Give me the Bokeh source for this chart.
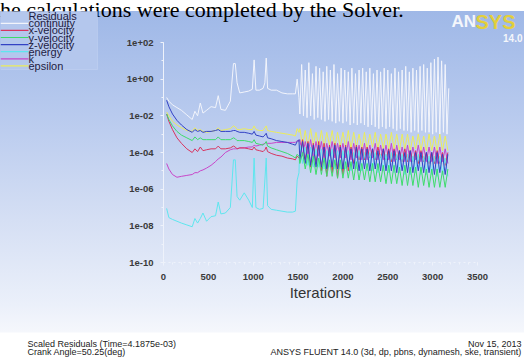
import numpy as np
from bokeh.plotting import figure
from bokeh.models import Label, BoxAnnotation, FixedTicker, CustomJSTickFormatter, Range1d
from bokeh.embed import file_html
from bokeh.resources import INLINE

W, H = 524, 362

# ---------------- data (log10 of scaled residuals) ----------------
iters_a = [35, 60, 100, 150, 200, 260, 320, 350, 380, 410,
           440, 480, 530, 580, 610, 640, 690, 745, 780, 800,
           820, 850, 900, 950, 990, 1010, 1030, 1070, 1110, 1130,
           1145, 1160, 1200, 1260, 1320, 1380, 1440, 1470, 1490, 1510]
iters_b = list(range(1520, 3190, 30))   # band residuals, sampled every 30 iterations
iters_c = list(range(1520, 3190, 20))   # continuity, sampled every 20 iterations

continuity_a = [-1.0, -1.2, -1.4, -1.55, -1.7, -1.95, -2.2, -1.75, -2.0, -1.3,
                -1.85, -1.7, -1.5, -1.55, -0.9, -1.65, -1.7, -1.2, 0.85, 0.85,
                -0.2, -0.75, -0.7, -0.65, -0.55, 1.05, -0.6, -0.6, -0.5, -0.2,
                1.15, -0.5, -0.6, -0.6, -0.75, -0.8, -0.8, -0.8, 0.0, -1.0]
continuity_b = [-1.9, 0.8, -2.0, 0.5, -2.1, 0.9, -2.0, 0.3, -2.2, 0.7, -2.1, 0.6,
                -2.2, 0.4, -2.3, 0.7, -2.2, 0.5, -2.3, 0.8, -2.4, 0.3, -2.3, 0.6,
                -2.4, 0.5, -2.3, 0.4, -2.5, 0.6, -2.4, 0.3, -2.5, 0.5, -2.4, 0.6,
                -2.5, 0.4, -2.6, 0.6, -2.5, 0.3, -2.6, 0.5, -2.7, 0.4, -2.6, 0.6,
                -2.7, 0.5, -2.6, 0.3, -2.7, 0.6, -2.8, 0.4, -2.7, 0.5, -2.8, 0.7,
                -2.8, 0.4, -2.9, 0.6, -2.8, 0.5, -2.9, 0.7, -2.8, 0.8, -2.9, 0.6,
                -2.9, 0.9, -3.0, 1.1, -2.9, 1.2, -3.0, 1.0, -2.9, 0.8, -3.0, -0.5]

xvel_a = [-1.9, -2.3, -2.75, -3.2, -3.5, -3.8, -4.0, -3.8, -3.95, -3.7,
          -3.9, -3.85, -3.8, -3.8, -3.65, -3.8, -3.8, -3.75, -3.65, -3.7,
          -3.8, -3.75, -3.75, -3.8, -3.85, -3.7, -3.85, -3.9, -3.95, -3.85,
          -3.7, -3.95, -4.05, -4.15, -4.2, -4.3, -4.35, -4.4, -4.2, -4.3]
xvel_b = [-4.2, -3.3, -4.4, -3.4, -4.8, -3.5, -4.6, -3.4,
          -5.0, -3.5, -5.3, -3.6, -5.1, -3.5, -5.4, -3.6,
          -5.2, -3.6, -5.0, -3.7, -4.6, -3.6, -4.4, -3.7,
          -4.4, -3.7, -4.3, -3.8, -4.4, -3.7, -4.3, -3.8,
          -4.4, -3.8, -4.5, -3.8, -4.4, -3.9, -4.5, -3.8,
          -4.5, -3.9, -4.5, -3.9, -4.6, -3.9, -4.5, -4.0,
          -4.6, -4.0, -4.6, -3.9, -4.6, -4.0, -4.7, -4.0]

yvel_a = [-1.9, -2.2, -2.55, -2.85, -3.05, -3.2, -3.35, -3.15, -3.3, -3.2,
          -3.3, -3.3, -3.3, -3.3, -3.15, -3.3, -3.3, -3.3, -3.2, -3.25,
          -3.35, -3.35, -3.35, -3.4, -3.45, -3.3, -3.5, -3.55, -3.6, -3.5,
          -3.4, -3.65, -3.75, -3.85, -3.95, -4.05, -4.2, -4.3, -4.1, -4.2]
yvel_b = [-4.6, -4.0, -4.9, -4.1, -5.1, -4.2, -5.2, -4.3,
          -5.2, -4.3, -5.3, -4.4, -5.3, -4.4, -5.4, -4.4,
          -5.4, -4.5, -5.4, -4.5, -5.5, -4.5, -5.5, -4.6,
          -5.5, -4.6, -5.6, -4.6, -5.6, -4.6, -5.6, -4.7,
          -5.7, -4.7, -5.7, -4.7, -5.7, -4.8, -5.8, -4.7,
          -5.8, -4.8, -5.8, -4.8, -5.9, -4.8, -5.8, -4.9,
          -5.9, -4.9, -5.9, -4.9, -5.9, -5.0, -5.9, -4.9]

zvel_a = [-1.15, -1.5, -1.9, -2.25, -2.5, -2.75, -2.9, -2.75, -2.85, -2.8,
          -2.9, -2.85, -2.85, -2.8, -2.75, -2.85, -2.85, -2.85, -2.8, -2.8,
          -2.85, -2.9, -2.9, -2.95, -3.0, -2.85, -3.05, -3.1, -3.15, -3.05,
          -2.95, -3.2, -3.25, -3.35, -3.4, -3.45, -3.55, -3.6, -3.4, -3.3]
zvel_b = [-4.4, -3.4, -4.6, -3.5, -4.7, -3.6, -4.8, -3.6,
          -4.8, -3.7, -4.9, -3.7, -4.8, -3.6, -4.9, -3.7,
          -4.9, -3.7, -4.8, -3.8, -4.9, -3.7, -5.0, -3.8,
          -4.9, -3.8, -5.0, -3.8, -4.9, -3.9, -5.0, -3.8,
          -5.0, -3.9, -5.0, -3.9, -5.1, -3.9, -5.0, -4.0,
          -5.1, -3.9, -5.1, -4.0, -5.0, -4.0, -5.1, -4.0,
          -5.1, -4.0, -5.2, -4.0, -5.1, -4.1, -5.2, -4.1]

energy_a = [-7.05, -7.55, -7.65, -7.75, -7.85, -7.95, -8.05, -7.6, -7.85, -7.6,
            -7.3, -7.75, -7.5, -7.45, -6.7, -7.35, -7.3, -7.0, -4.4, -4.4,
            -6.4, -6.6, -6.2, -6.6, -7.0, -4.3, -7.0, -7.1, -7.05, -5.5,
            -4.3, -6.9, -7.1, -7.15, -7.2, -7.25, -7.25, -7.2, -5.5, -5.1]
energy_b = [-3.6, -4.6, -3.7, -4.7, -3.7, -4.8, -3.8, -4.8,
            -3.8, -4.9, -3.9, -4.8, -3.8, -4.9, -3.9, -4.9,
            -3.9, -4.9, -3.9, -5.0, -4.0, -4.9, -3.9, -5.0,
            -4.0, -5.0, -4.0, -5.0, -4.0, -5.1, -4.1, -5.0,
            -4.1, -5.1, -4.0, -5.1, -4.1, -5.1, -4.1, -5.2,
            -4.1, -5.2, -4.2, -5.1, -4.1, -5.2, -4.2, -5.2,
            -4.2, -5.2, -4.2, -5.3, -4.2, -5.2, -4.3, -5.3]

k_a = [-4.6, -4.9, -5.2, -5.35, -5.3, -5.25, -5.2, -5.1, -5.1, -5.0,
       -4.95, -4.85, -4.7, -4.5, -4.35, -4.25, -4.0, -3.85, -3.8, -3.8,
       -3.8, -3.75, -3.75, -3.7, -3.7, -3.6, -3.65, -3.6, -3.55, -3.5,
       -3.45, -3.5, -3.5, -3.45, -3.45, -3.45, -3.45, -3.45, -3.35, -3.4]
k_b = [-3.3, -4.2, -3.4, -4.1, -3.3, -4.3, -3.4, -4.2,
       -3.4, -4.3, -3.5, -4.2, -3.4, -4.3, -3.5, -4.3,
       -3.5, -4.3, -3.4, -4.4, -3.5, -4.3, -3.6, -4.4,
       -3.5, -4.4, -3.6, -4.3, -3.5, -4.4, -3.6, -4.4,
       -3.6, -4.4, -3.5, -4.5, -3.6, -4.4, -3.7, -4.5,
       -3.6, -4.5, -3.7, -4.4, -3.6, -4.5, -3.7, -4.5,
       -3.7, -4.5, -3.7, -4.6, -3.7, -4.5, -3.8, -4.6]

epsilon_a = [-1.8, -2.0, -2.3, -2.5, -2.65, -2.8, -2.85, -2.65, -2.8, -2.75,
             -2.85, -2.9, -2.85, -2.8, -2.65, -2.8, -2.75, -2.7, -2.55, -2.6,
             -2.75, -2.75, -2.7, -2.75, -2.75, -2.55, -2.75, -2.8, -2.8, -2.65,
             -2.55, -2.8, -2.85, -2.9, -2.95, -3.0, -3.05, -3.1, -2.7, -2.9]
epsilon_b = [-2.7, -3.6, -2.8, -3.7, -2.7, -3.6, -2.9, -3.7,
             -2.8, -3.7, -2.9, -3.6, -2.8, -3.7, -2.9, -3.7,
             -2.9, -3.7, -2.8, -3.8, -2.9, -3.7, -3.0, -3.8,
             -2.9, -3.8, -3.0, -3.7, -2.9, -3.8, -3.0, -3.8,
             -3.0, -3.8, -2.9, -3.8, -3.0, -3.9, -3.0, -3.8,
             -3.0, -3.9, -3.1, -3.8, -3.0, -3.9, -3.1, -3.9,
             -3.0, -3.9, -3.1, -3.9, -3.0, -3.9, -3.1, -3.9]

names = ["continuity", "x-velocity", "y-velocity", "z-velocity", "energy", "k", "epsilon"]
colors = ["#f2f4fb", "#d8345f", "#3ddc6a", "#3342c4", "#5ee6ee", "#c846c8", "#ecec5a"]
parts_a = [continuity_a, xvel_a, yvel_a, zvel_a, energy_a, k_a, epsilon_a]
parts_b = [continuity_b, xvel_b, yvel_b, zvel_b, energy_b, k_b, epsilon_b]
x_b = [iters_c, iters_b, iters_b, iters_b, iters_b, iters_b, iters_b]
draw_order = [0, 6, 5, 1, 4, 3, 2]

x_ticks = [0, 500, 1000, 1500, 2000, 2500, 3000, 3500]
x_minor = list(range(0, 3501, 100))
y_ticks = [1e-10, 1e-8, 1e-6, 1e-4, 1e-2, 1e0, 1e2]
y_minor = [1e-10, 1e-9, 1e-8, 1e-7, 1e-6, 1e-5, 1e-4, 1e-3, 1e-2, 1e-1, 1e0, 1e1, 1e2]
x_lo, x_hi = 0, 3500
y_lo_exp, y_hi_exp = -10, 2

# ---------------- layout (reference pixel geometry) ----------------
def sy(ry):
    return H - ry

FL, FR, FT, FB = 163, 477, 42, 262  # plot box in canvas px
kx = (FR - FL) / (x_hi - x_lo)
x_start = x_lo - FL / kx
x_end = x_hi + (W - FR) / kx
dec = (FB - FT) / (y_hi_exp - y_lo_exp)
y_top = 10 ** (y_hi_exp + FT / dec)
y_bot = 10 ** (y_lo_exp - (H - FB) / dec)

p = figure(width=W, height=H, x_range=Range1d(x_start, x_end),
           y_range=Range1d(y_bot, y_top), y_axis_type="log",
           output_backend="svg", toolbar_location=None, title=None,
           min_border_left=0, min_border_right=0, min_border_top=0, min_border_bottom=0)
p.border_fill_color = None
p.background_fill_color = None
p.outline_line_color = None
p.grid.visible = False
p.styles = {"background": "linear-gradient(to bottom, #ffffff 0px, #ffffff 11px, "
                          "#9fb8e7 11px, #b8caee 115px, #d5dff4 220px, "
                          "#ebf0fa 305px, #f5f7fc 332px, #ffffff 333px, #ffffff 362px)"}

for ax in (p.xaxis[0], p.yaxis[0]):
    ax.axis_line_color = "#eef2fb"
    ax.major_tick_line_color = "#eef2fb"
    ax.minor_tick_line_color = "#eef2fb"
    ax.major_tick_in = 0
    ax.major_tick_out = 3
    ax.minor_tick_in = 0
    ax.minor_tick_out = 2
    ax.major_label_text_font = "Liberation Sans"
    ax.major_label_text_font_style = "bold"
    ax.major_label_text_font_size = "9.5px"
    ax.major_label_text_color = "#3a3a3a"

p.xaxis.fixed_location = 10.0 ** y_lo_exp
p.xaxis.bounds = (x_lo, x_hi)
p.xaxis.ticker = FixedTicker(ticks=x_ticks, minor_ticks=x_minor)
p.xaxis.major_label_standoff = 8
p.xaxis.axis_line_dash = "2 3"
p.xaxis.axis_label = "Iterations"
p.xaxis.axis_label_text_font = "Liberation Sans"
p.xaxis.axis_label_text_font_style = "normal"
p.xaxis.axis_label_text_font_size = "15px"
p.xaxis.axis_label_text_color = "#333333"
p.xaxis.axis_label_standoff = 1

p.yaxis.fixed_location = x_lo
p.yaxis.bounds = (10.0 ** y_lo_exp, 10.0 ** y_hi_exp)
p.yaxis.ticker = FixedTicker(ticks=y_ticks, minor_ticks=y_minor)
p.yaxis.major_label_standoff = 7
p.yaxis.formatter = CustomJSTickFormatter(code="""
const e = Math.round(Math.log10(tick));
const a = Math.abs(e);
return '1e' + (e < 0 ? '-' : '+') + (a < 10 ? '0' : '') + a;
""")

for i in draw_order:
    xs = iters_a + x_b[i]
    ys = 10 ** np.array(parts_a[i] + parts_b[i])
    p.line(xs, ys, line_color=colors[i], line_width=1)

# ---------------- annotations ----------------
def lab(text, rx, ry, size, color, font="Liberation Sans", style="normal",
        align="left", baseline="middle"):
    p.add_layout(Label(x=rx, y=sy(ry), x_units="screen", y_units="screen",
                       text=text, text_font=font, text_font_size=size,
                       text_font_style=style, text_color=color,
                       text_align=align, text_baseline=baseline))

def box(l, r, t, b, fill, line=None):
    p.add_layout(BoxAnnotation(left=l, right=r, top=sy(t), bottom=sy(b),
                               left_units="screen", right_units="screen",
                               top_units="screen", bottom_units="screen",
                               fill_color=fill, fill_alpha=1.0,
                               line_color=line, line_width=1))

# top text (the reference shows this caption cut by the image edge)
lab("The calculations were completed by the Solver.", -14, 9, "22px", "#000000",
    font="Liberation Serif", baseline="alphabetic")

# legend box
box(0, 97, 11, 69, "#b4c7ed", "#d4def4")
lab("Residuals", 28, 15.5, "11px", "#1f2142")
entry_y = [22.8, 29.9, 37.0, 44.1, 51.2, 58.3, 65.4]
for name, c, ey in zip(names, colors, entry_y):
    box(0, 28, ey - 0.6, ey + 0.6, c)
    lab(name, 28, ey, "11px", "#1f2142")

# ANSYS logo
lab("AN", 451, 21, "17px", "#f4f6fb", style="bold")
lab("SYS", 475, 21, "20px", "#e2cf3c", style="bold")
lab("14.0", 522, 37, "10px", "#f4f6fb", style="bold", align="right")

# footer texts
lab("Scaled Residuals  (Time=4.1875e-03)", 27, 343.5, "9px", "#222222")
lab("Crank Angle=50.25(deg)", 27, 351.5, "9px", "#222222")
lab("Nov 15, 2013", 521, 343.5, "9px", "#222222", align="right")
lab("ANSYS FLUENT 14.0 (3d, dp, pbns, dynamesh, ske, transient)", 521, 351.5, "9px",
    "#222222", align="right")

open("out.html", "w").write(file_html(p, INLINE))
